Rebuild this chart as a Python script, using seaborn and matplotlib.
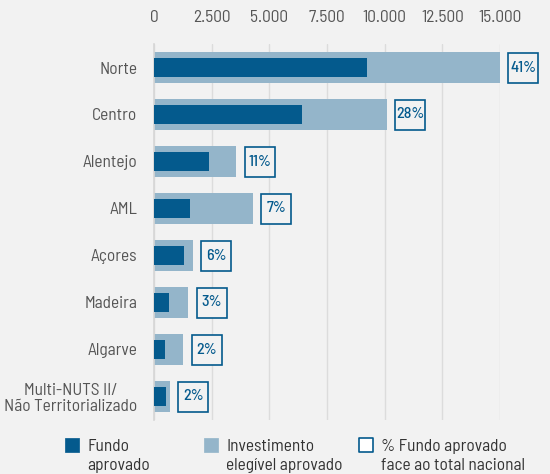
import numpy as np
import pandas as pd
import seaborn as sns
import matplotlib.pyplot as plt
from matplotlib.lines import Line2D
from matplotlib.path import Path
from matplotlib.ticker import FuncFormatter
import matplotlib.transforms as mtransforms

regions = ["Norte", "Centro", "Alentejo", "AML", "Açores", "Madeira", "Algarve",
           "Multi-NUTS II/\nNão Territorializado"]
investimento = [14990, 10100, 3560, 4280, 1680, 1490, 1260, 690]
fundo = [9250, 6400, 2380, 1550, 1290, 665, 480, 530]
pct_labels = ["41%", "28%", "11%", "7%", "6%", "3%", "2%", "2%"]

dark = "#045a8d"
light = "#94b5ca"
bg = "#f2f2f2"
grey_txt = "#555555"

sns.set_theme(style="white")
plt.rcParams["font.family"] = ["Barlow Semi Condensed", "DejaVu Sans"]

df = pd.DataFrame({"regiao": regions, "investimento": investimento, "fundo": fundo})

fig = plt.figure(figsize=(5.5, 4.74), dpi=100, facecolor=bg)
ax = fig.add_axes([154 / 550, 1 - 420 / 474, 346 / 550, (420 - 44) / 474])
ax.set_facecolor(bg)

sns.barplot(data=df, x="investimento", y="regiao", color=light, width=0.66,
            linewidth=0, saturation=1, ax=ax, zorder=2)
sns.barplot(data=df, x="fundo", y="regiao", color=dark, width=0.4,
            linewidth=0, saturation=1, ax=ax, zorder=3)

# percentage boxes just right of the investment bars
offs = mtransforms.offset_copy(ax.transData, fig=fig, x=23.5, y=0, units="dots")
ax.plot(df["investimento"], np.arange(len(regions)), linestyle="none", marker="s",
        markersize=22.3, markerfacecolor=bg, markeredgecolor=dark, markeredgewidth=1.2,
        transform=offs, clip_on=False, zorder=4)
for i, (v, lab) in enumerate(zip(investimento, pct_labels)):
    ax.text(v, i, lab, transform=offs, ha="center", va="center", color=dark,
            fontsize=11.5, fontweight="medium", clip_on=False, zorder=5)

ax.set_xlim(0, 15000)
ax.set_ylim(len(regions) - 0.5, -0.5)
ax.set_xticks(np.arange(0, 15001, 2500))
ax.xaxis.set_major_formatter(FuncFormatter(lambda v, p: f"{int(v):,}".replace(",", ".")))
ax.xaxis.tick_top()
ax.tick_params(axis="x", length=0, pad=14, labelsize=12.5, labelcolor=grey_txt)
ax.tick_params(axis="y", which="major", length=0, pad=12, labelsize=12.5, labelcolor=grey_txt)
ax.set_yticks(np.arange(-0.5, len(regions)), minor=True)
ax.tick_params(axis="y", which="minor", length=4, color="#d6d6d6", width=1)
ax.grid(axis="x", color="#dcdcdc", linewidth=1, zorder=0)
ax.set_axisbelow(True)
ax.set_xlabel("")
ax.set_ylabel("")
for s in ["top", "right", "bottom"]:
    ax.spines[s].set_visible(False)
ax.spines["left"].set_color("#d6d6d6")
ax.spines["left"].set_linewidth(1.2)
for lab in ax.get_yticklabels():
    lab.set_ha("right")
    lab.set_multialignment("center")
    lab.set_linespacing(1.1)

# legend square raised to sit next to the first line of each label
shift = 0.8
sq = Path([(-0.5, shift - 0.5), (0.5, shift - 0.5), (0.5, shift + 0.5),
           (-0.5, shift + 0.5), (-0.5, shift - 0.5)], closed=True)
ms = 10 * (shift + 0.5) / 0.5

legend_items = [
    ("Fundo\naprovado", dark, dark, 63),
    ("Investimento\nelegível aprovado", light, light, 202),
    ("% Fundo aprovado\nface ao total nacional", "white", dark, 357),
]
for text, fc, ec, x0 in legend_items:
    h = Line2D([], [], linestyle="none", marker=sq, markersize=ms, markerfacecolor=fc,
               markeredgecolor=ec, markeredgewidth=1.2 if fc == "white" else 0.5)
    leg = fig.legend([h], [text], loc="center left", bbox_to_anchor=(x0 / 550, 1 - 456 / 474),
                     frameon=False, fontsize=12.5, labelcolor="#333333", handlelength=1.0,
                     handletextpad=0.4, borderaxespad=0, borderpad=0)
    for t in leg.get_texts():
        t.set_linespacing(1.3)

fig.savefig("out.png", dpi=100, facecolor=bg)
